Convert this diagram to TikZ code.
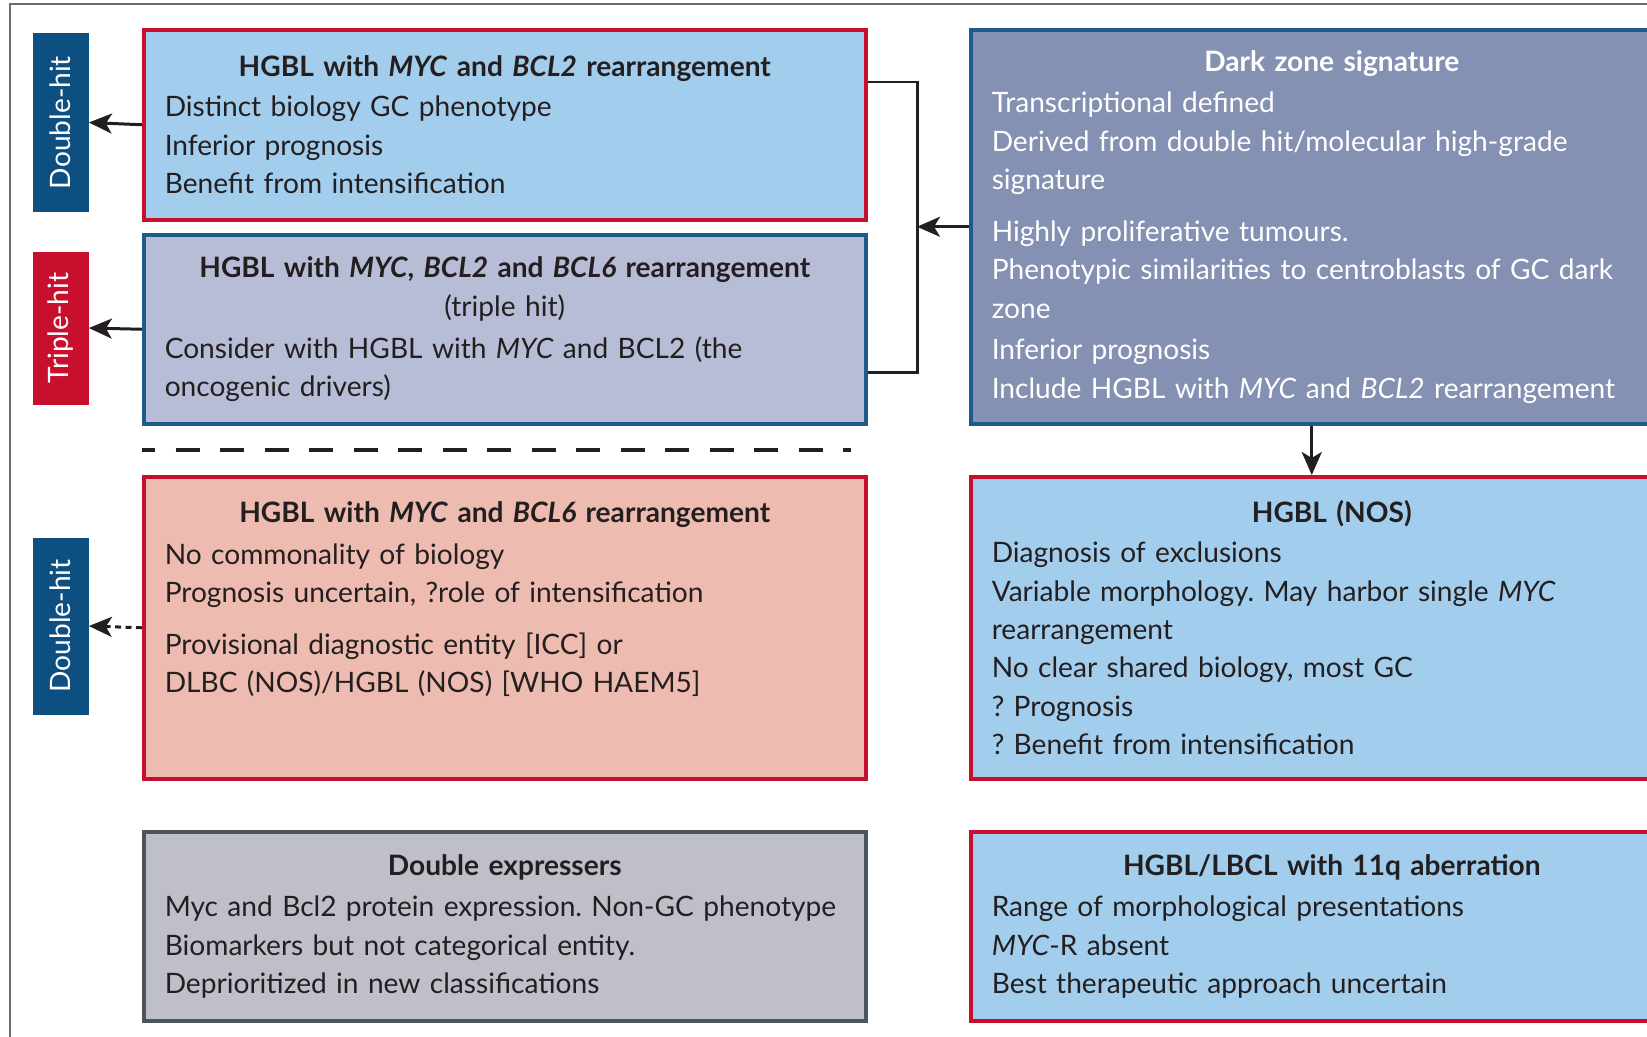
\documentclass[tikz,border=0pt]{standalone}
\usepackage{fontspec}
\setmainfont{Lato}
\frenchspacing
\usepackage{tikz}
\usetikzlibrary{positioning, arrows.meta, calc}
\definecolor{ink}{RGB}{35, 31, 32}
\definecolor{hitred}{RGB}{200, 16, 46}
\definecolor{hitblue}{RGB}{12, 79, 128}
\definecolor{edgeblue}{RGB}{30, 90, 138}
\definecolor{skyblue}{RGB}{163, 205, 236}
\definecolor{lavender}{RGB}{183, 189, 214}
\definecolor{slate}{RGB}{133, 145, 178}
\definecolor{salmon}{RGB}{237, 187, 176}
\definecolor{mistgrey}{RGB}{190, 191, 201}
\definecolor{edgegrey}{RGB}{75, 85, 95}
\definecolor{framegrey}{RGB}{110, 110, 110}
\newcommand{\boxtitle}[1]{\makebox[\linewidth]{\bfseries #1}}

\begin{document}
\begin{tikzpicture}[
    entity/.style={rectangle, line width=2pt, anchor=north west, minimum width=14.44cm, text width=13.6cm, inner xsep=0.42cm, align=left, text=ink, font=\fontsize{16}{21.8}\selectfont},
    tag/.style={rectangle, minimum width=1.12cm, text=white, font=\fontsize{16}{18}\selectfont},
    arrow/.style={-{Stealth[length=4.6mm, width=4mm, inset=1.2mm]}, line width=1.7pt, draw=ink},
    link/.style={line width=1.7pt, draw=ink}
]
    \useasboundingbox (0,0) rectangle (32.94,-20.72);
    \clip (0,0) rectangle (32.94,-20.72);
    \draw[framegrey, line width=1.1pt] (0.2,-20.9) -- (0.2,-0.08) -- (33.1,-0.08);

    % Tags
    \node[tag, fill=hitblue, minimum height=3.58cm] (dhtag) at (1.21,-2.45) {\rotatebox{90}{Double-hit}};
    \node[tag, fill=hitred, minimum height=3.06cm] (thtag) at (1.21,-6.56) {\rotatebox{90}{Triple-hit}};
    \node[tag, fill=hitblue, minimum height=3.54cm] (dhtagb) at (1.21,-12.52) {\rotatebox{90}{Double-hit}};

    % MYC and BCL2
    \node[entity, draw=hitred, fill=skyblue, minimum height=3.8cm] (mycbcl2) at (2.84,-0.56) {\boxtitle{HGBL with \textit{MYC} and \textit{BCL2} rearrangement}\\[1pt]
        Distinct biology GC phenotype\\
        Inferior prognosis\\
        Benefit from intensification};

    % Triple hit
    \node[entity, draw=edgeblue, fill=lavender, minimum height=3.78cm] (triple) at (2.84,-4.66) {\boxtitle{HGBL with \textit{MYC}, \textit{BCL2} and \textit{BCL6} rearrangement}\\
        \makebox[\linewidth]{(triple hit)}\\[2pt]
        Consider with HGBL with \textit{MYC} and BCL2 (the\\
        oncogenic drivers)};

    % MYC and BCL6
    \node[entity, draw=hitred, fill=salmon, minimum height=6.04cm, text depth=4.64cm] (mycbcl6) at (2.84,-9.5) {\boxtitle{HGBL with \textit{MYC} and \textit{BCL6} rearrangement}\\[2pt]
        No commonality of biology\\
        Prognosis uncertain, ?role of intensification\\[0.27cm]
        Provisional diagnostic entity [ICC] or\\
        DLBC (NOS)/HGBL (NOS) [WHO HAEM5]};

    % Double expressers
    \node[entity, draw=edgegrey, fill=mistgrey, minimum height=3.78cm] (dexp) at (2.84,-16.6) {\boxtitle{Double expressers}\\[2pt]
        Myc and Bcl2 protein expression. Non-GC phenotype\\
        Biomarkers but not categorical entity.\\
        Deprioritized in new classifications};

    % Dark zone signature
    \node[entity, draw=edgeblue, fill=slate, text=white, minimum height=7.88cm] (darkzone) at (19.38,-0.56) {\boxtitle{Dark zone signature}\\[2pt]
        Transcriptional defined\\
        Derived from double hit/molecular high-grade\\
        signature\\[0.27cm]
        Highly proliferative tumours.\\
        Phenotypic similarities to centroblasts of GC dark\\
        zone\\[2pt]
        Inferior prognosis\\
        Include HGBL with \textit{MYC} and \textit{BCL2} rearrangement};

    % HGBL NOS
    \node[entity, draw=hitred, fill=skyblue, minimum height=6.04cm] (nos) at (19.38,-9.5) {\boxtitle{HGBL (NOS)}\\[1pt]
        Diagnosis of exclusions\\
        Variable morphology. May harbor single \textit{MYC}\\
        rearrangement\\
        No clear shared biology, most GC\\
        ? Prognosis\\
        ? Benefit from intensification};

    % 11q aberration
    \node[entity, draw=hitred, fill=skyblue, minimum height=3.78cm] (elevenq) at (19.38,-16.6) {\boxtitle{HGBL/LBCL with 11q aberration}\\[2pt]
        Range of morphological presentations\\
        \textit{MYC}-R absent\\
        Best therapeutic approach uncertain};

    % Connectors
    \coordinate (bracket) at (18.34,-4.5);
    \draw[link] ([yshift=-1.08cm]mycbcl2.north east) -| (bracket) |- ([yshift=1.06cm]triple.south east);
    \draw[arrow] (darkzone.west) -- (darkzone.west -| bracket);
    \draw[arrow] ([xshift=-0.4cm]darkzone.south) -- ([xshift=-0.4cm]nos.north);
    \draw[arrow] (mycbcl2.west) -- (dhtag.east);
    \draw[arrow] (triple.west) -- (thtag.east);
    \draw[arrow, dash pattern=on 0.12cm off 0.09cm] (mycbcl6.west) -- (dhtagb.east);

    % Separator
    \draw[ink, line width=2pt, dash pattern=on 0.48cm off 0.41cm, dash phase=0.22cm] (2.84,-9.0) -- (17.02,-9.0);
\end{tikzpicture}
\end{document}
